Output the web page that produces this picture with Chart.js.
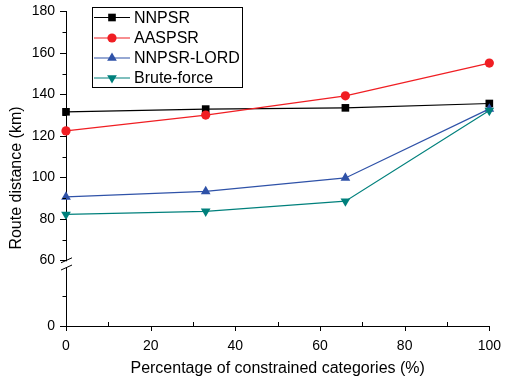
<!DOCTYPE html>
<html>
<head>
<meta charset="utf-8">
<script src="https://cdn.jsdelivr.net/npm/chart.js@4.4.1/dist/chart.umd.min.js"></script>
<style>
  html, body { margin: 0; padding: 0; background: #fff; }
  #wrap { width: 505px; height: 385px; }
</style>
</head>
<body>
<div id="wrap"><canvas id="c" width="505" height="385"></canvas></div>
<script>
const xValues = [0, 33, 66, 100];
const nnpsr = [131.6, 132.9, 133.5, 135.6];
const aaspsr = [122.4, 130.0, 139.3, 155.1];
const nnpsrLord = [90.6, 93.2, 99.7, 133.0];
const bruteForce = [82.1, 83.6, 88.5, 132.2];
const seriesNames = ['NNPSR', 'AASPSR', 'NNPSR-LORD', 'Brute-force'];
const xTicks = [0, 10, 20, 30, 40, 50, 60, 70, 80, 90, 100];
const yUpperTicks = [60, 70, 80, 90, 100, 110, 120, 130, 140, 150, 160, 170, 180];
const yLowerTicks = [0, 30];
const xTitle = 'Percentage of constrained categories (%)';
const yTitle = 'Route distance (km)';

const FONT = 'Liberation Sans, Arial, sans-serif';
const pts = arr => arr.map((v, i) => ({x: xValues[i], y: v}));

const styles = [
  {line: '#000000', fill: '#000000', pointStyle: 'rect', radius: 5.4, rotation: 0},
  {line: '#f01e23', fill: '#f01e23', pointStyle: 'circle', radius: 4.6, rotation: 0},
  {line: '#2f52a8', fill: '#2f52a8', pointStyle: 'triangle', radius: 5.6, rotation: 0},
  {line: '#00807c', fill: '#00807c', pointStyle: 'triangle', radius: 5.6, rotation: 180}
];
const seriesData = [nnpsr, aaspsr, nnpsrLord, bruteForce];

const datasets = seriesData.map((d, i) => ({
  label: seriesNames[i],
  data: pts(d),
  yAxisID: 'y',
  borderColor: styles[i].line,
  backgroundColor: styles[i].fill,
  pointBackgroundColor: styles[i].fill,
  pointBorderColor: styles[i].fill,
  pointBorderWidth: 0,
  pointStyle: styles[i].pointStyle,
  pointRadius: styles[i].radius,
  pointRotation: styles[i].rotation,
  borderWidth: 1.2,
  tension: 0,
  clip: false,
  order: 4 - i
}));

const decor = {
  id: 'decor',
  afterDraw(chart) {
    const ctx = chart.ctx;
    const x = chart.scales.x, yU = chart.scales.y, yL = chart.scales.y2;
    ctx.save();
    ctx.strokeStyle = '#000';
    ctx.lineWidth = 1;
    const ax = x.left;
    yU.ticks.forEach(t => {
      const py = Math.round(yU.getPixelForValue(t.value)) + 0.5;
      const major = t.value % 20 === 0;
      ctx.beginPath();
      ctx.moveTo(ax, py);
      ctx.lineTo(ax - (major ? 6 : 3.5), py);
      ctx.stroke();
    });
    yL.ticks.forEach(t => {
      const py = Math.round(yL.getPixelForValue(t.value)) + 0.5;
      const major = t.value === 0;
      ctx.beginPath();
      ctx.moveTo(ax, py);
      ctx.lineTo(ax - (major ? 6 : 3.5), py);
      ctx.stroke();
    });
    const by = x.top;
    x.ticks.forEach(t => {
      const px = Math.round(x.getPixelForValue(t.value)) + 0.5;
      const major = t.value % 20 === 0;
      ctx.beginPath();
      if (major) { ctx.moveTo(px, by); ctx.lineTo(px, by + 5); }
      else { ctx.moveTo(px, by); ctx.lineTo(px, by - 4); }
      ctx.stroke();
    });
    // axis break
    const yTop = yU.getPixelForValue(60);
    const yBot = yL.getPixelForValue(60);
    ctx.fillStyle = '#fff';
    ctx.fillRect(ax - 2, yTop + 1, 4, Math.max(0, yBot - yTop));
    ctx.beginPath();
    ctx.moveTo(ax - 5, yTop + 2.5); ctx.lineTo(ax + 6, yTop - 2.5);
    ctx.moveTo(ax - 5, yBot + 3.5); ctx.lineTo(ax + 6, yBot - 1.5);
    ctx.stroke();

    ctx.save();
    ctx.translate(16.5, 178);
    ctx.rotate(-Math.PI / 2);
    ctx.fillStyle = '#000';
    ctx.font = '16px ' + FONT;
    ctx.textAlign = 'center';
    ctx.textBaseline = 'middle';
    ctx.fillText(yTitle, 0, 0);
    ctx.restore();

    const lx = 92.5, ly = 7.5, lw = 150, lh = 80;
    ctx.fillStyle = '#fff';
    ctx.fillRect(lx, ly, lw, lh);
    ctx.strokeStyle = '#000';
    ctx.lineWidth = 1;
    ctx.strokeRect(lx, ly, lw, lh);
    const rows = [17.5, 38, 58, 78];
    chart.data.datasets.forEach((ds, i) => {
      const ry = rows[i];
      ctx.strokeStyle = ds.borderColor;
      ctx.lineWidth = 1.2;
      ctx.beginPath();
      ctx.moveTo(94, ry); ctx.lineTo(130, ry);
      ctx.stroke();
      ctx.fillStyle = ds.pointBackgroundColor;
      ctx.strokeStyle = ds.pointBorderColor;
      Chart.helpers.drawPoint(ctx, {
        pointStyle: ds.pointStyle, radius: ds.pointRadius,
        rotation: ds.pointRotation, borderWidth: 0
      }, 112, ry);
      ctx.fillStyle = '#000';
      ctx.font = '16px ' + FONT;
      ctx.textAlign = 'left';
      ctx.textBaseline = 'middle';
      ctx.fillText(ds.label, 134, ry + 1);
    });
    ctx.restore();
  }
};

new Chart(document.getElementById('c'), {
  type: 'line',
  data: { datasets },
  options: {
    responsive: false,
    animation: false,
    devicePixelRatio: 1,
    layout: { padding: { left: 0, right: 1, top: 1, bottom: 0 } },
    plugins: { legend: { display: false }, tooltip: { enabled: false } },
    scales: {
      x: {
        type: 'linear', min: 0, max: 100,
        afterFit(s) { s.height = 59; },
        afterBuildTicks(s) { s.ticks = xTicks.map(v => ({value: v})); },
        grid: { display: false },
        border: { display: true, color: '#000', width: 1 },
        ticks: {
          autoSkip: false, maxRotation: 0, padding: 4,
          color: '#000', font: { family: FONT, size: 14 },
          callback: v => (v % 20 === 0 ? String(v) : '')
        },
        title: {
          display: true, text: xTitle, color: '#000',
          font: { family: FONT, size: 16 }, padding: { top: 0, bottom: 7 }
        }
      },
      y: {
        type: 'linear', position: 'left', stack: 'yax', stackWeight: 4.29, weight: 1,
        min: 57, max: 180,
        afterFit(s) { s.width = 66; },
        afterBuildTicks(s) { s.ticks = yUpperTicks.map(v => ({value: v})); },
        grid: { display: false },
        border: { display: true, color: '#000', width: 1 },
        ticks: {
          autoSkip: false, padding: 3,
          color: '#000', font: { family: FONT, size: 14 },
          callback: v => (v % 20 === 0 ? String(v) : '')
        }
      },
      y2: {
        type: 'linear', position: 'left', stack: 'yax', stackWeight: 1, weight: 0,
        min: 0, max: 60,
        afterFit(s) { s.width = 66; },
        afterBuildTicks(s) { s.ticks = yLowerTicks.map(v => ({value: v})); },
        grid: { display: false },
        border: { display: true, color: '#000', width: 1 },
        ticks: {
          autoSkip: false, padding: 3,
          color: '#000', font: { family: FONT, size: 14 },
          callback: v => (v === 0 ? '0' : '')
        }
      }
    }
  },
  plugins: [decor]
});
</script>
</body>
</html>
